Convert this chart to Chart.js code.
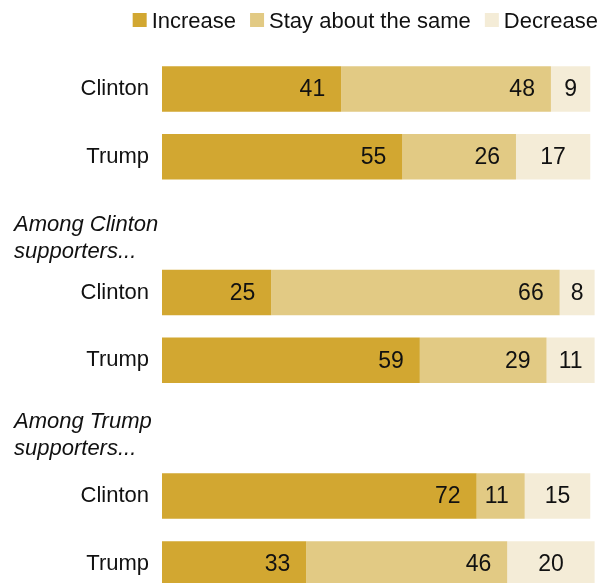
<!DOCTYPE html>
<html>
<head>
<meta charset="utf-8">
<script src="https://cdn.jsdelivr.net/npm/chart.js@4/dist/chart.umd.min.js"></script>
<style>
  html, body { margin: 0; padding: 0; background: #fff; overflow: hidden; }
</style>
</head>
<body>
<canvas id="chart" width="609" height="624"></canvas>
<script>
// Data
const groupHeaders = [null, ['Among Clinton', 'supporters...'], ['Among Trump', 'supporters...']];
const candidates = ['Clinton', 'Trump'];
const increase = [41, 55, 25, 59, 72, 33];
const staySame = [48, 26, 66, 29, 11, 46];
const decrease = [9, 17, 8, 11, 15, 20];
const seriesNames = ['Increase', 'Stay about the same', 'Decrease'];
const seriesColors = ['#d2a731', '#e2ca84', '#f4ecd7'];

const FONT = '"Liberation Sans", Arial, sans-serif';

// build category slots: a header slot before each group that has a header
const labels = [];
const headerSlots = [];
const rowIndex = [];
groupHeaders.forEach((h, g) => {
    if (h) {
        headerSlots.push({ slot: labels.length, lines: h });
        labels.push('');
        rowIndex.push(null);
    }
    candidates.forEach((c, i) => {
        labels.push(c);
        rowIndex.push(g * candidates.length + i);
    });
});
const pick = arr => rowIndex.map(r => r === null ? null : arr[r]);

// value labels inside the segments
const valueLabels = {
    id: 'valueLabels',
    afterDatasetsDraw(chart) {
        const ctx = chart.ctx;
        ctx.save();
        ctx.font = '23px ' + FONT;
        ctx.fillStyle = '#111';
        ctx.textBaseline = 'middle';
        chart.data.datasets.forEach((ds, di) => {
            chart.getDatasetMeta(di).data.forEach((bar, i) => {
                const v = ds.data[i];
                if (v === null || v === undefined) return;
                if (di === 2) {
                    ctx.textAlign = 'center';
                    ctx.fillText(v, (bar.x + bar.base) / 2, bar.y + 1);
                } else {
                    ctx.textAlign = 'right';
                    ctx.fillText(v, bar.x - 16, bar.y + 1);
                }
            });
        });
        ctx.restore();
    }
};

// italic group headers (second one sits a little higher in the original)
const headerNudge = [6, 0];
const groupTitles = {
    id: 'groupTitles',
    afterDraw(chart) {
        const ctx = chart.ctx;
        const y = chart.scales.y;
        ctx.save();
        ctx.font = 'italic 22px ' + FONT;
        ctx.fillStyle = '#111';
        ctx.textAlign = 'left';
        ctx.textBaseline = 'alphabetic';
        headerSlots.forEach((h, k) => {
            const cy = y.getPixelForValue(h.slot) + headerNudge[k];
            ctx.fillText(h.lines[0], 14, cy);
            ctx.fillText(h.lines[1], 14, cy + 27);
        });
        ctx.restore();
    }
};

// legend drawn at top right
const topLegend = {
    id: 'topLegend',
    afterDraw(chart) {
        const ctx = chart.ctx;
        ctx.save();
        ctx.font = '22px ' + FONT;
        ctx.textBaseline = 'alphabetic';
        ctx.textAlign = 'left';
        let x = 598;
        const items = chart.data.datasets.map(d => ({ text: d.label, color: d.backgroundColor }));
        const pos = [];
        for (let i = items.length - 1; i >= 0; i--) {
            const w = ctx.measureText(items[i].text).width;
            const tx = x - w;
            const bx = tx - 5 - 14;
            pos[i] = { tx, bx };
            x = bx - 14;
        }
        items.forEach((it, i) => {
            ctx.fillStyle = it.color;
            ctx.fillRect(pos[i].bx, 13, 14, 14);
            ctx.fillStyle = '#111';
            ctx.fillText(it.text, pos[i].tx, 28);
        });
        ctx.restore();
    }
};

new Chart(document.getElementById('chart'), {
    type: 'bar',
    data: {
        labels: labels,
        datasets: [
            { label: seriesNames[0], data: pick(increase), backgroundColor: seriesColors[0] },
            { label: seriesNames[1], data: pick(staySame), backgroundColor: seriesColors[1] },
            { label: seriesNames[2], data: pick(decrease), backgroundColor: seriesColors[2] }
        ]
    },
    options: {
        indexAxis: 'y',
        responsive: false,
        animation: false,
        layout: { padding: { top: 55, right: 10, bottom: 1, left: 0 } },
        datasets: { bar: { barPercentage: 0.67, categoryPercentage: 1, borderWidth: 0 } },
        plugins: { legend: { display: false }, tooltip: { enabled: false } },
        scales: {
            x: { stacked: true, min: 0, max: 100, display: false },
            y: {
                stacked: true,
                grid: { display: false, drawTicks: false },
                border: { display: false },
                ticks: { color: '#111', font: { family: FONT, size: 22 }, padding: 13 },
                afterFit(s) { s.width = 162; }
            }
        }
    },
    plugins: [valueLabels, groupTitles, topLegend]
});
</script>
</body>
</html>
